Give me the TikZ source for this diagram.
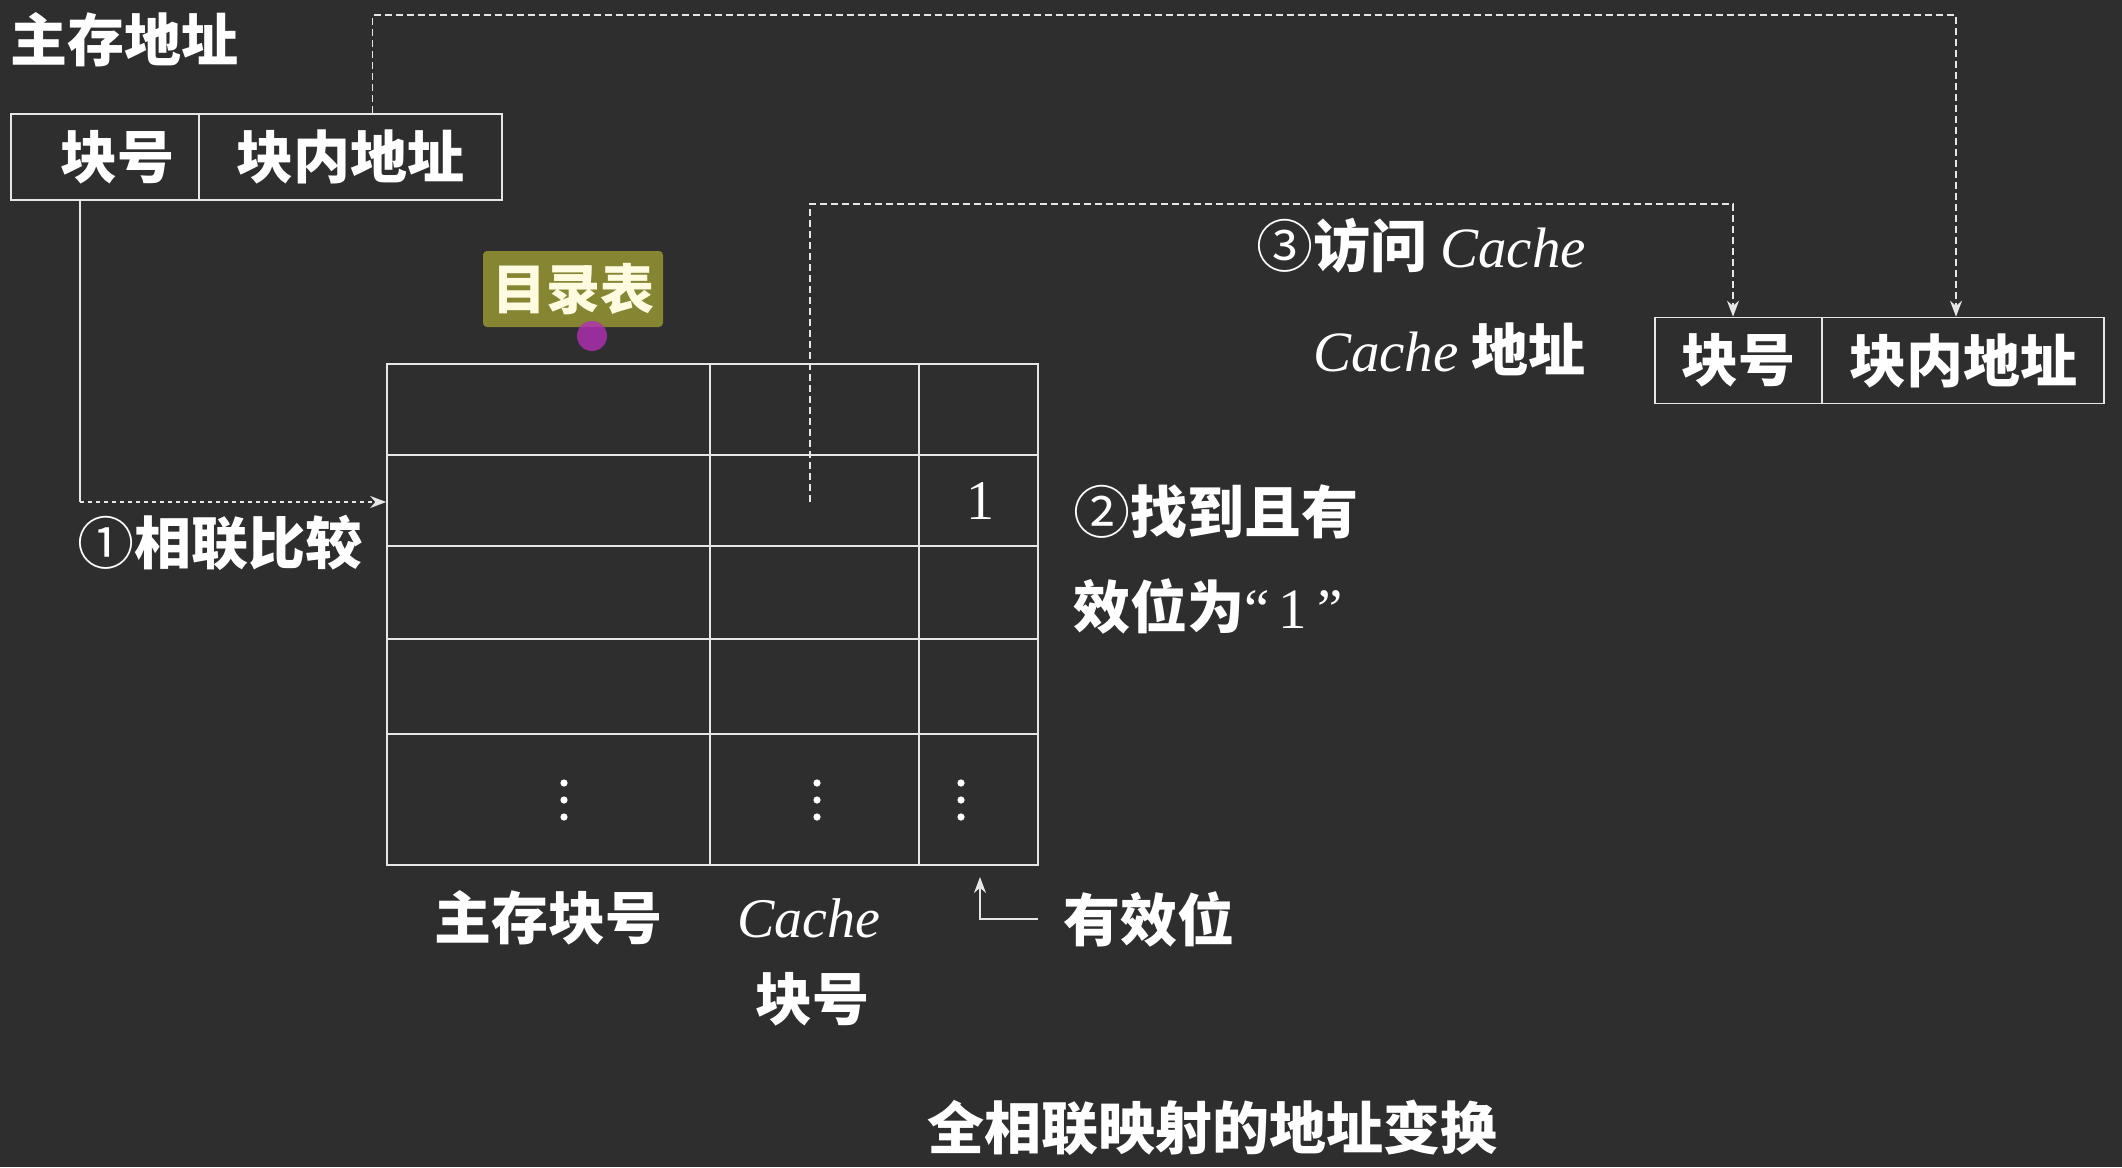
\documentclass[tikz,border=0pt]{standalone}
\usepackage{fontspec}
\setmainfont{Noto Sans CJK SC}
\newfontfamily\serifrm{Liberation Serif}
\usetikzlibrary{arrows.meta,calc}
\definecolor{board}{HTML}{2E2E2E}
\definecolor{chalk}{HTML}{E6E6E6}
\definecolor{olive}{HTML}{858532}
\definecolor{tagtext}{HTML}{FFFBE0}
\definecolor{pen}{HTML}{B22FB5}
\tikzset{
  big/.style={font=\fontsize{57}{62}\selectfont\bfseries, text=white, inner sep=0pt},
  field/.style={draw=chalk, line width=1.6pt, minimum height=86pt, inner sep=0pt, font=\fontsize{57}{62}\selectfont\bfseries, text=white},
  grid/.style={draw=chalk, line width=1.6pt},
  dashline/.style={draw=chalk, line width=1.6pt, dash pattern=on 7pt off 4pt},
  dotline/.style={draw=chalk, line width=1.8pt, dash pattern=on 4pt off 4pt},
  tip/.style={-{Stealth[length=16pt,width=12pt]}},
}
\begin{document}
\begin{tikzpicture}[x=1pt,y=-1pt]
\fill[board] (0,0) rectangle (2122,1167);
\useasboundingbox (0,0) rectangle (2122,1167);

% main memory address
\node[big] (mmaddr) at (124,40) {主存地址};
\node[field, minimum width=188pt] (kh1) at (105,157) {\hspace*{24pt}块号};
\node[field, minimum width=303pt] (addr1) at (350.5,157) {块内地址};

% cache address
\node[field, minimum width=167pt] (kh2) at (1738.5,360.5) {块号};
\node[field, minimum width=282pt] (addr2) at (1963,360.5) {块内地址};
\node[big, anchor=west] (visit) at (1256,246) {{\mdseries ③}访问 {\serifrm\mdseries\itshape Cache}};
\node[big, anchor=east] (caddr) at (1586,349) {{\serifrm\mdseries\itshape Cache} 地址};

% directory table
\node[grid, minimum width=651pt, minimum height=501pt, inner sep=0pt] (tbl) at (712.5,614.5) {};
\draw[grid] (710,364) -- (710,865) (919,364) -- (919,865);
\draw[grid] (387,455) -- (1038,455) (387,546) -- (1038,546) (387,639) -- (1038,639) (387,734) -- (1038,734);
\node[font=\fontsize{56}{60}\selectfont\serifrm, text=white, inner sep=0pt] (one) at (980,501) {1};
\foreach \x in {564,817,961}{
  \foreach \y in {783,800,817}{ \fill[white] (\x,\y) circle (3.6pt); }
}
\node[fill=olive, rounded corners=4pt, minimum width=180pt, minimum height=76pt, inner sep=0pt,
      font=\fontsize{54}{58}\selectfont\bfseries, text=tagtext] (tag) at (573,289) {目录表};
\fill[pen, opacity=0.8] (592,336) circle (15pt);

% labels
\node[big, anchor=west] (cmp) at (77,543) {{\mdseries ①}相联比较};
\node[big, anchor=west] (found1) at (1073,512) {{\mdseries ②}找到且有};
\node[big, anchor=west] (found2) at (1073,606) {效位为{\serifrm\mdseries“\,1\,”}};
\node[big] (mblk) at (548,918) {主存块号};
\node[font=\fontsize{56}{60}\selectfont\serifrm\itshape, text=white, inner sep=0pt] (cblk1) at (809,918) {Cache};
\node[big] (cblk2) at (812,999) {块号};
\node[big, anchor=west] (vb) at (1063,919) {有效位};
\node[big] (title) at (1212,1128) {全相联映射的地址变换};

% connectors
\coordinate (bend1) at (80,502);
\draw[grid] ([xshift=-25pt]kh1.south) -- (bend1);
\draw[dotline, tip] (bend1) -- (tbl.west |- bend1);

\draw[dashline, tip] ([xshift=22pt]addr1.north) -- ++(0,-98) -| ([xshift=-7pt]addr2.north);

\coordinate (hit) at (810,502);
\draw[dashline, tip] (hit) -- (810,204) -| ([xshift=-5.5pt]kh2.north);

\coordinate (vcol) at (980,865);
\draw[grid, tip, shorten >=12pt] ([xshift=-25pt]vb.west) -| (vcol);
\end{tikzpicture}
\end{document}
